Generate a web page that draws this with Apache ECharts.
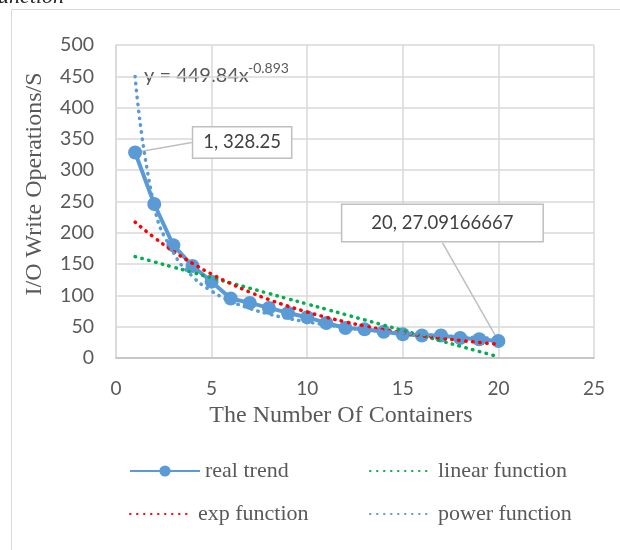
<!DOCTYPE html>
<html>
<head>
<meta charset="utf-8">
<script src="https://cdn.jsdelivr.net/npm/echarts@6/dist/echarts.min.js"></script>
<style>
  html, body { margin: 0; padding: 0; background: #fff; }
  #main { width: 620px; height: 550px; }
</style>
</head>
<body>
<div id="main"></div>
<script>
// x values (number of containers)
const containers = [1, 2, 3, 4, 5, 6, 7, 8, 9, 10, 11, 12, 13, 14, 15, 16, 17, 18, 19, 20];
// measured I/O write operations per second
const realTrend = [328.25, 246, 180, 147, 122, 95, 88, 80, 72, 65, 56, 48, 46, 42, 38, 36, 36, 32, 30, 27.09166667];
// trendline values read at each x
const linearFn = [162.0, 153.6, 145.1, 136.7, 128.3, 119.9, 111.5, 103.0, 94.6, 86.2, 77.8, 69.4, 60.9, 52.5, 44.1, 35.7, 27.3, 18.8, 10.4, 2.0];
const expFn = [217.0, 192.4, 170.5, 151.2, 134.0, 118.8, 105.3, 93.3, 82.8, 73.4, 65.0, 57.7, 51.1, 45.3, 40.2, 35.6, 31.6, 28.0, 24.8, 22.0];
const powerFn = [449.8, 242.2, 168.6, 130.4, 106.9, 90.8, 79.1, 70.2, 63.2, 57.6, 52.9, 48.9, 45.5, 42.6, 40.1, 37.8, 35.8, 34.1, 32.4, 31.0];

const seriesNames = ['real trend', 'linear function', 'exp function', 'power function'];

function pairs(ys) {
  return containers.map((x, i) => [x, ys[i]])
}

const labelFont = 'Lato, "Open Sans", sans-serif'
const serifFont = '"Liberation Serif", "DejaVu Serif", serif'
const dotStyle = (color) => ({ color: color, width: 3.5, type: [0.5, 6.5], cap: 'round' })

const chart = echarts.init(document.getElementById('main'))

const realData = pairs(realTrend)
realData[0] = {
  value: realData[0],
  label: { show: true, formatter: '1, 328.25', padding: [6, 10, 5, 10] }
}
realData[19] = {
  value: realData[19],
  label: { show: true, formatter: '20, 27.09166667', padding: [9, 29, 8, 29] }
}

const legendAt = (name, left, top, w, hideSymbol) => ({
  data: [name], left: left, top: top, itemWidth: w, itemHeight: 14,
  itemStyle: hideSymbol ? { opacity: 0 } : {},
  textStyle: { fontFamily: serifFont, fontSize: 22, color: '#595959' }
})

const option = {
  backgroundColor: '#fff',
  animation: false,
  grid: { left: 116, right: 26, top: 45, bottom: 192 },
  graphic: [
    { type: 'rect', shape: { x: 11.5, y: 9.5, width: 640, height: 600 },
      style: { fill: 'none', stroke: '#d9d9d9', lineWidth: 1 }, silent: true },
    { type: 'text', x: -8, y: 8,
      style: { text: 'function', font: 'italic 22px "Liberation Serif", serif', fill: '#262626',
        verticalAlign: 'bottom' } },
    { type: 'text', x: 35, y: 184, rotation: Math.PI / 2,
      style: { text: 'I/O Write Operations/S', font: '24px "Liberation Serif", serif', fill: '#595959',
        align: 'center', verticalAlign: 'middle' } },
    { type: 'text', x: 341, y: 416,
      style: { text: 'The Number Of Containers', font: '24px "Liberation Serif", serif', fill: '#595959',
        align: 'center', verticalAlign: 'middle' } },
    // trendline equation (power), superscript drawn as a second text
    { type: 'text', x: 144, y: 76,
      style: { text: 'y = 449.84x', fontSize: 20, fontFamily: 'Lato', fill: '#595959', verticalAlign: 'middle' } },
    { type: 'text', x: 248, y: 68,
      style: { text: '-0.893', fontSize: 14, fontFamily: 'Lato', fill: '#595959', verticalAlign: 'middle' } }
  ],
  legend: [
    legendAt(seriesNames[0], 124, 455, 70, false),
    legendAt(seriesNames[1], 364, 455, 63, true),
    legendAt(seriesNames[2], 124, 498, 63, true),
    legendAt(seriesNames[3], 364, 498, 63, true)
  ],
  xAxis: {
    type: 'value', min: 0, max: 25, interval: 5,
    axisLine: { show: true, lineStyle: { color: '#bfbfbf', width: 1.5 } },
    axisTick: { show: false },
    axisLabel: { fontFamily: labelFont, fontSize: 19, color: '#595959', margin: 21 },
    splitLine: { show: true, lineStyle: { color: '#d9d9d9', width: 1.5 } }
  },
  yAxis: {
    type: 'value', min: 0, max: 500, interval: 50,
    axisLine: { show: true, lineStyle: { color: '#d9d9d9', width: 1.5 } },
    axisTick: { show: false },
    axisLabel: { fontFamily: labelFont, fontSize: 19.5, color: '#595959', margin: 22 },
    splitLine: { show: true, lineStyle: { color: '#d9d9d9', width: 1.5 } }
  },
  series: [
    {
      name: seriesNames[0], type: 'line', data: realData,
      symbol: 'circle', symbolSize: 14,
      itemStyle: { color: '#5b9bd5' },
      lineStyle: { color: '#5b9bd5', width: 4 },
      label: {
        position: 'inside', fontFamily: labelFont, fontSize: 18.5, color: '#404040',
        backgroundColor: '#fff', borderColor: '#bfbfbf', borderWidth: 1.5
      },
      labelLine: { show: true, lineStyle: { color: '#bfbfbf', width: 1.5 } },
      labelLayout: function (params) {
        if (params.dataIndex === 0) return { dx: 107, dy: -10 }
        if (params.dataIndex === 19) return { dx: -56, dy: -118 }
        return {}
      },
      z: 2
    },
    {
      name: seriesNames[1], type: 'line', data: pairs(linearFn),
      symbol: 'none', smooth: true,
      itemStyle: { color: '#00b050' }, lineStyle: dotStyle('#00b050'), z: 3
    },
    {
      name: seriesNames[2], type: 'line', data: pairs(expFn),
      symbol: 'none', smooth: true,
      itemStyle: { color: '#ff0000' }, lineStyle: dotStyle('#ff0000'), z: 3
    },
    {
      name: seriesNames[3], type: 'line', data: pairs(powerFn),
      symbol: 'none', smooth: true,
      itemStyle: { color: '#5b9bd5' }, lineStyle: dotStyle('#5b9bd5'), z: 3
    }
  ]
}

chart.setOption(option)
</script>
</body>
</html>
